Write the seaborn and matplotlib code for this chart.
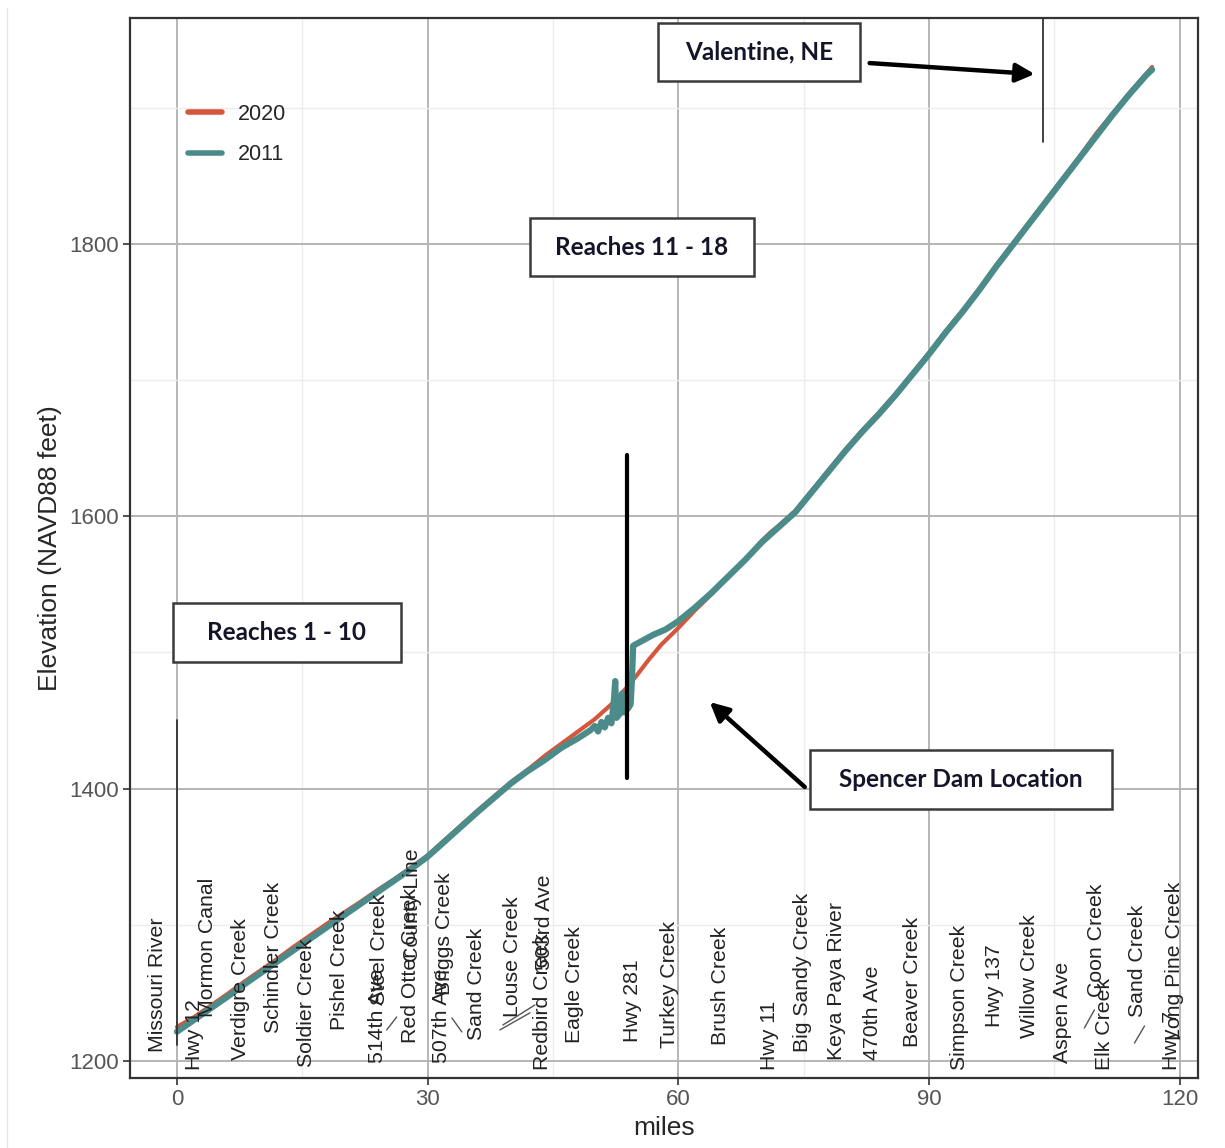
import numpy as np
import pandas as pd
import matplotlib
matplotlib.use("Agg")
import matplotlib.pyplot as plt
from matplotlib.patches import Rectangle
from matplotlib.lines import Line2D
import seaborn as sns

# Niobrara River thalweg profile, river miles upstream from the Missouri confluence
miles_2011 = [0, 2, 4, 6, 8, 10, 12, 14, 16, 18, 20, 22, 24, 26, 28, 30,
              32, 34, 36, 38, 40, 42, 44, 46, 48, 49, 49.5, 50, 50.4, 50.8,
              51.2, 51.6, 52, 52.3, 52.45, 52.6, 53, 53.3, 53.5, 54.0, 54.3,
              54.45, 54.6, 55.5, 57, 58.5, 60, 62, 64, 66, 68, 70, 72, 74,
              76, 78, 80, 82, 84, 86, 88, 90, 92, 94, 96, 98, 100, 102, 104,
              106, 108, 110, 112, 114, 116, 116.7]
elev_2011 = [1221.5, 1230, 1238.5, 1247, 1256, 1264.5, 1273, 1281.5, 1290,
             1298.5, 1307, 1315.5, 1324, 1332.5, 1341, 1350, 1361, 1372,
             1383, 1393.5, 1404, 1413, 1421, 1430, 1437, 1441, 1443, 1446,
             1442, 1449, 1445, 1452, 1448, 1465, 1479, 1452, 1455, 1470,
             1456, 1459, 1462, 1480, 1505, 1508, 1513, 1517, 1523, 1533,
             1544, 1556, 1568, 1581, 1592, 1603, 1618, 1633, 1648, 1662,
             1675, 1689, 1704, 1719, 1735, 1750, 1766, 1783, 1799, 1815,
             1831, 1847, 1863, 1879, 1895, 1910, 1924, 1928]

miles_2020 = [0, 2, 4, 6, 8, 10, 12, 14, 16, 18, 20, 22, 24, 26, 28, 30,
              32, 34, 36, 38, 40, 42, 44, 46, 48, 50, 52, 53.8, 55, 56.5,
              58, 60, 62, 64, 66, 68, 70, 71, 72, 74, 76, 78, 80, 82, 84,
              86, 88, 90, 92, 94, 96, 98, 100, 102, 104, 106, 108, 110, 112,
              114, 116, 116.7]
elev_2020 = [1225, 1232, 1240.5, 1249, 1258, 1266.5, 1275, 1284, 1292.5,
             1301, 1309, 1317, 1325.5, 1333.5, 1342, 1351, 1362, 1373,
             1384, 1394.5, 1405, 1414, 1424, 1433, 1442, 1451, 1462, 1474,
             1483, 1495, 1506, 1518, 1531, 1543, 1555.5, 1568, 1582, 1588,
             1593, 1604, 1619, 1634, 1649, 1663, 1676, 1690, 1705, 1720,
             1736, 1751, 1767, 1784, 1800, 1816, 1832, 1848, 1864, 1881,
             1896, 1911, 1925, 1930]

# Bridge and tributary landmarks: name, label x (miles), elevation where the label starts
landmark_names = ["Missouri River", "Hwy 12", "Mormon Canal", "Verdigre Creek",
                  "Schindler Creek", "Soldier Creek", "Pishel Creek", "514th Ave",
                  "Steel Creek", "Red Otter Creek", "County Line", "507th Ave",
                  "Briggs Creek", "Sand Creek", "Louse Creek", "Redbird Creek",
                  "503rd Ave", "Eagle Creek", "Hwy 281", "Turkey Creek",
                  "Brush Creek", "Hwy 11", "Big Sandy Creek", "Keya Paya River",
                  "470th Ave", "Beaver Creek", "Simpson Creek", "Hwy 137",
                  "Willow Creek", "Aspen Ave", "Elk Creek", "Coon Creek",
                  "Sand Creek", "Hwy 7", "Long Pine Creek"]
landmark_miles = [-2.3, 2.15, 3.7, 7.55, 11.5, 15.55, 19.5, 24.05,
                  24.3, 27.9, 28.2, 31.7,
                  32.0, 35.9, 40.1, 43.7,
                  44.0, 47.6, 54.55, 59.0,
                  65.0, 70.95, 74.9, 78.95,
                  83.3, 88.05, 93.7, 97.85,
                  102.05, 106.0, 111.0, 110.05,
                  115.0, 119.05, 119.4]
landmark_base = [1206.5, 1193.5, 1232, 1200.5, 1220.5, 1195.5, 1223, 1198.5,
                 1241, 1213, 1272.5, 1198.5,
                 1248.5, 1215.5, 1232, 1193.5,
                 1267, 1213, 1214, 1209.5,
                 1212, 1193.5, 1206.5, 1200.5,
                 1200.5, 1210.5, 1193.5, 1225,
                 1217, 1198.5, 1193.5, 1247,
                 1232, 1193.5, 1215.5]

# Leader segments from shifted labels back to their landmarks
leader_x0 = [25.1, 32.9, 38.65, 39.0, 108.6, 114.6]
leader_y0 = [1222.8, 1231.6, 1222.8, 1226.4, 1224.2, 1213.2]
leader_x1 = [26.3, 34.1, 42.24, 42.83, 109.8, 115.8]
leader_y1 = [1232.3, 1221.3, 1235.3, 1241.1, 1237.5, 1225.7]

RED = "#D4573D"
TEAL = "#4B8C8A"

sns.set_theme(style="white")
plt.rcParams["font.family"] = ["Liberation Sans", "DejaVu Sans"]

fig = plt.figure(figsize=(12.25, 11.48), dpi=100)
ax = fig.add_axes([0.10612, 0.06098, 0.87184, 0.92334])

profile = pd.DataFrame({
    "miles": miles_2020 + miles_2011,
    "elev": elev_2020 + elev_2011,
    "year": ["2020"] * len(miles_2020) + ["2011"] * len(miles_2011),
})

sns.lineplot(data=profile, x="miles", y="elev", hue="year",
             hue_order=["2020", "2011"], palette={"2020": RED, "2011": TEAL},
             estimator=None, sort=False, ax=ax, zorder=3)
for line, lw in zip(ax.lines, [3.0, 4.5]):
    line.set_linewidth(lw)
    line.set_solid_joinstyle("round")
    line.set_solid_capstyle("round")

# axes, grid and ticks
ax.set_xlim(-5.62, 122.2)
ax.set_ylim(1187.5, 1966.0)
ax.set_xticks([0, 30, 60, 90, 120])
ax.set_yticks([1200, 1400, 1600, 1800])
ax.set_xticks([15, 45, 75, 105], minor=True)
ax.set_yticks([1300, 1500, 1700, 1900], minor=True)
ax.grid(which="major", color="#b5b5b5", linewidth=1.4, zorder=0)
ax.grid(which="minor", color="#ececec", linewidth=1.0, zorder=0)
ax.set_axisbelow(True)
ax.tick_params(which="major", length=5, width=1.2, color="#333333",
               labelsize=16, labelcolor="#555555", direction="out",
               bottom=True, left=True, pad=3)
ax.tick_params(which="minor", length=0)
for sp in ax.spines.values():
    sp.set_color("#333333")
    sp.set_linewidth(1.6)
ax.set_xlabel("miles", fontsize=19, labelpad=4)
ax.set_ylabel("Elevation (NAVD88 feet)", fontsize=19, labelpad=5)

# legend
handles, labels = ax.get_legend_handles_labels()
leg = ax.legend(handles, labels, loc="upper left", bbox_to_anchor=(0.046, 0.927),
                frameon=False, fontsize=15.5, handlelength=1.6,
                handletextpad=0.75, labelspacing=0.9, borderaxespad=0)
for h in leg.legend_handles:
    h.set_linewidth(4)

# landmark labels along the channel
for name, xm, yb in zip(landmark_names, landmark_miles, landmark_base):
    ax.text(xm, yb, name, rotation=90, ha="center", va="bottom",
            fontsize=15.3, color="#222222", zorder=4)
for x0, y0, x1, y1 in zip(leader_x0, leader_y0, leader_x1, leader_y1):
    ax.plot([x0, x1], [y0, y1], color="#555555", lw=1.0, zorder=4)

# reference lines: confluence, Spencer Dam, Valentine
ax.plot([0, 0], [1211.7, 1450.4], color="#333333", lw=1.3, zorder=4)
ax.plot([53.84, 53.84], [1407.8, 1645.0], color="black", lw=3.0, zorder=5)
ax.plot([103.66, 103.66], [1875.0, 1966.0], color="#333333", lw=1.3, zorder=4)

# callout boxes
def callout(x0, x1, y0, y1, text):
    ax.add_patch(Rectangle((x0, y0), x1 - x0, y1 - y0, facecolor="white",
                           edgecolor="#3a3a3a", linewidth=1.8, zorder=6))
    ax.text((x0 + x1) / 2, (y0 + y1) / 2, text, ha="center", va="center",
            fontsize=17.5, fontfamily=["Lato", "DejaVu Sans"],
            fontweight="bold", color="#15152a", zorder=7)

callout(57.55, 81.72, 1919.7, 1962.3, "Valentine, NE")
callout(42.24, 69.04, 1776.5, 1819.1, "Reaches 11 - 18")
callout(-0.48, 26.8, 1493.0, 1536.3, "Reaches 1 - 10")
callout(75.74, 111.87, 1385.1, 1428.4, "Spencer Dam Location")

arrow = dict(arrowstyle="-|>", color="black", lw=3.2, mutation_scale=28,
             shrinkA=0, shrinkB=0)
ax.annotate("", xy=(102.66, 1924.8), xytext=(82.9, 1932.9), arrowprops=arrow, zorder=7)
ax.annotate("", xy=(63.77, 1463.6), xytext=(75.14, 1401.2), arrowprops=arrow, zorder=7)

fig.add_artist(Line2D([0.0057, 0.0057], [0.0, 0.993], color="#e6e6e6", lw=1.0))

fig.savefig("out.png", dpi=100)
